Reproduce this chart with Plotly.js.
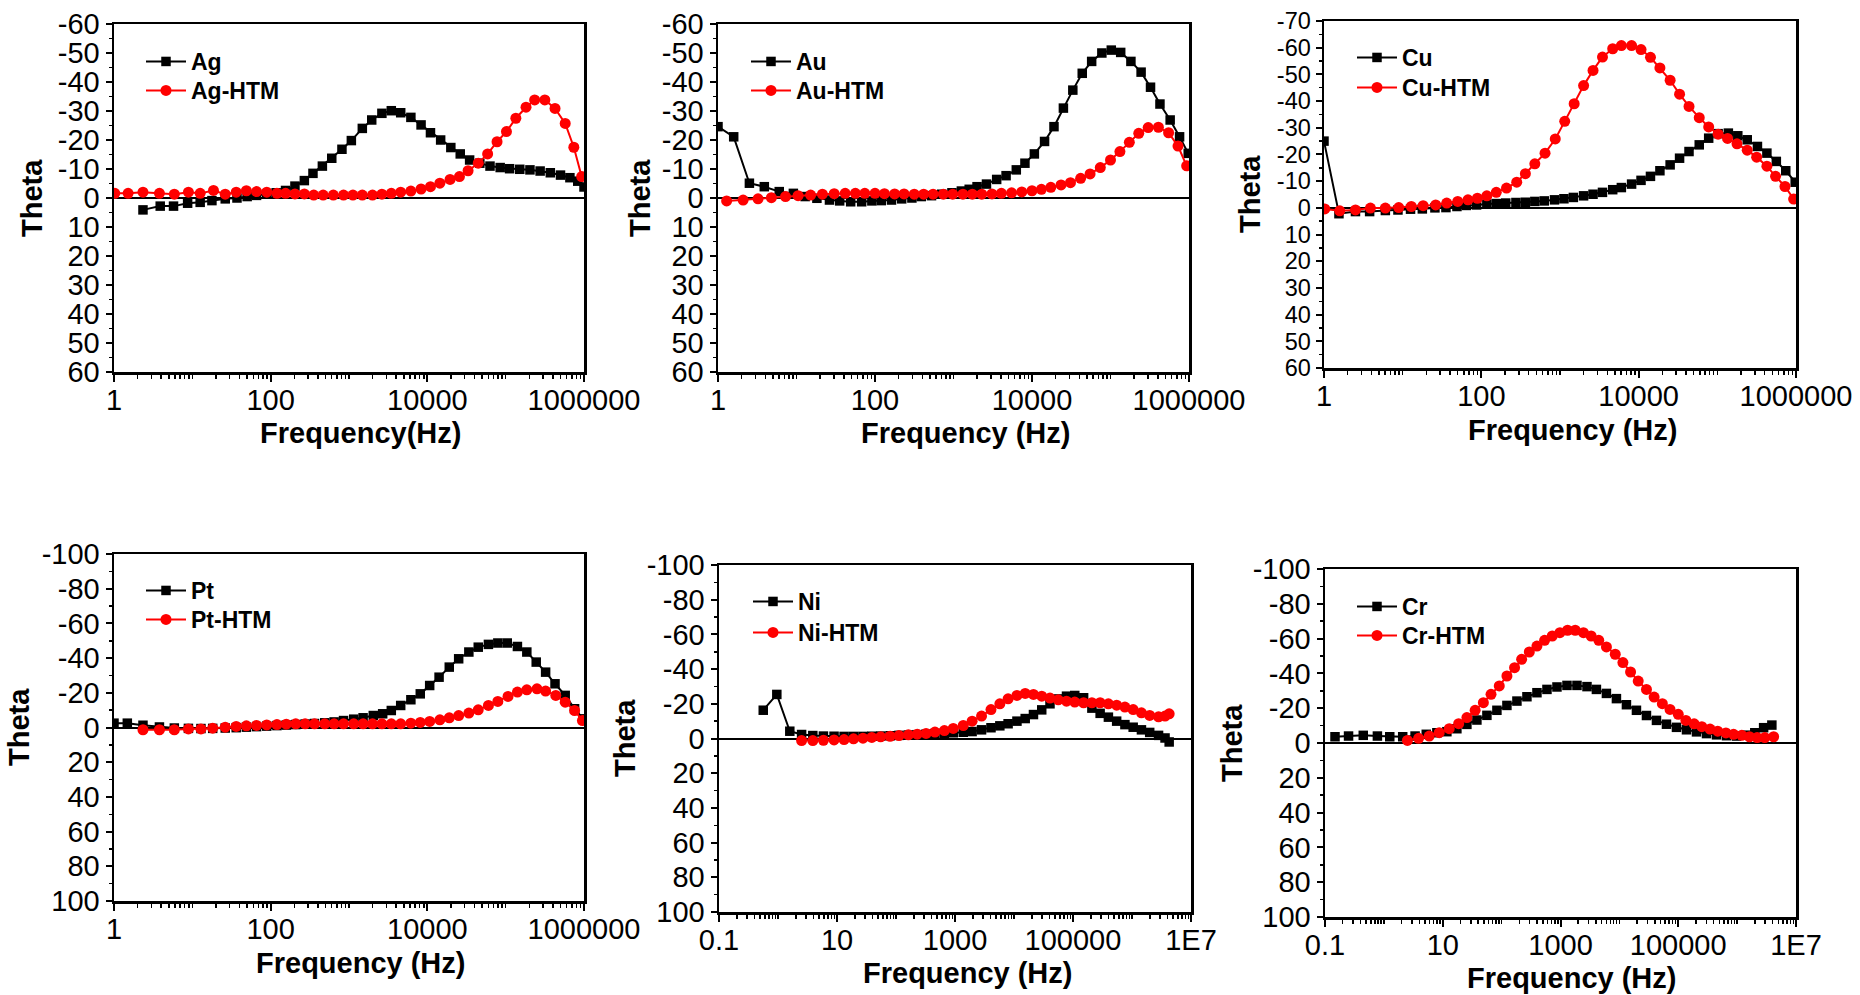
<!DOCTYPE html>
<html><head><meta charset="utf-8">
<script src="https://cdn.plot.ly/plotly-3.0.1.min.js"></script>
<style>html,body{margin:0;padding:0;background:#fff}#chart{width:1860px;height:995px}</style>
</head><body><div id="chart"></div>
<script>
// ---- data: log10(frequency / Hz) and theta (deg) ----
const agLogF = [0.37,0.59,0.76,0.94,1.10,1.25,1.42,1.57,1.70,1.82,1.95,2.07,2.19,2.31,2.43,2.54,2.66,2.78,2.91,3.03,3.17,3.29,3.42,3.54,3.66,3.79,3.92,4.04,4.17,4.30,4.42,4.54,4.67,4.80,4.93,5.05,5.18,5.31,5.44,5.57,5.70,5.82,5.92,6.00];
const agTheta = [4.1,2.8,2.8,1.8,1.5,0.9,0.3,0.0,-0.5,-0.9,-1.3,-1.8,-2.6,-4.1,-6.0,-8.5,-11.0,-13.7,-16.8,-19.8,-24.0,-26.9,-29.2,-30.1,-29.4,-27.8,-25.2,-22.5,-20.0,-17.4,-15.2,-13.1,-12.0,-11.0,-10.5,-10.1,-9.9,-9.7,-9.3,-8.7,-7.9,-7.0,-5.8,-3.8];
const agHtmLogF = [0.01,0.18,0.37,0.58,0.77,0.95,1.10,1.27,1.42,1.56,1.69,1.82,1.95,2.08,2.19,2.31,2.43,2.55,2.67,2.80,2.93,3.05,3.17,3.30,3.42,3.54,3.66,3.79,3.92,4.04,4.16,4.29,4.41,4.52,4.65,4.77,4.89,5.01,5.13,5.26,5.37,5.50,5.63,5.76,5.87,5.97];
const agHtmTheta = [-1.6,-1.6,-2.0,-1.6,-1.3,-2.0,-1.6,-2.6,-1.3,-2.0,-2.5,-2.2,-2.0,-1.6,-1.6,-1.4,-1.4,-1.0,-1.0,-1.0,-1.0,-1.0,-1.0,-1.0,-1.3,-1.6,-2.0,-2.4,-3.1,-3.9,-5.1,-6.4,-7.4,-9.4,-12.0,-15.2,-19.4,-22.9,-27.5,-31.3,-33.8,-33.8,-30.9,-25.7,-17.5,-7.4];

const auLogF = [0.00,0.20,0.40,0.59,0.78,0.96,1.11,1.26,1.42,1.55,1.69,1.83,1.96,2.08,2.21,2.34,2.47,2.59,2.72,2.85,2.98,3.10,3.20,3.30,3.42,3.55,3.67,3.80,3.91,4.03,4.16,4.28,4.40,4.52,4.64,4.76,4.89,5.01,5.13,5.26,5.39,5.51,5.63,5.76,5.88,5.99];
const auTheta = [-24.6,-21.1,-5.1,-3.9,-2.2,-1.6,-0.5,0.1,0.7,1.0,1.3,1.3,1.0,0.9,0.7,0.3,0.0,-0.5,-0.8,-1.3,-1.8,-2.4,-3.0,-3.9,-4.8,-6.4,-7.7,-9.7,-12.0,-15.2,-19.5,-24.6,-31.0,-37.2,-43.0,-47.1,-50.0,-51.0,-50.2,-47.1,-43.4,-38.2,-32.4,-26.9,-21.1,-15.4];
const auHtmLogF = [0.11,0.32,0.51,0.68,0.86,1.02,1.18,1.33,1.48,1.62,1.75,1.87,2.00,2.12,2.25,2.37,2.50,2.62,2.74,2.87,2.99,3.12,3.24,3.36,3.49,3.61,3.74,3.87,4.00,4.12,4.24,4.37,4.49,4.62,4.74,4.87,5.00,5.12,5.24,5.36,5.48,5.61,5.74,5.86,5.97];
const auHtmTheta = [1.0,0.7,0.3,-0.1,-0.5,-0.8,-1.0,-1.3,-1.5,-1.6,-1.6,-1.6,-1.6,-1.5,-1.4,-1.4,-1.3,-1.3,-1.3,-1.3,-1.3,-1.3,-1.3,-1.3,-1.4,-1.6,-1.8,-2.1,-2.5,-3.0,-3.7,-4.5,-5.3,-6.8,-8.3,-10.5,-13.1,-16.0,-19.2,-22.3,-24.3,-24.4,-22.5,-17.9,-11.1];

const cuLogF = [0.00,0.19,0.40,0.58,0.78,0.94,1.10,1.25,1.41,1.55,1.69,1.81,1.94,2.07,2.19,2.31,2.44,2.56,2.68,2.80,2.93,3.05,3.17,3.30,3.42,3.54,3.67,3.78,3.91,4.03,4.15,4.27,4.40,4.52,4.64,4.77,4.89,5.01,5.14,5.26,5.38,5.51,5.63,5.75,5.87,5.99];
const cuTheta = [-25.0,2.2,1.4,1.4,1.0,0.8,0.5,0.4,0.0,-0.1,-0.5,-0.9,-1.1,-1.4,-1.6,-1.8,-2.0,-2.1,-2.4,-2.6,-3.0,-3.4,-3.9,-4.5,-5.1,-5.8,-6.8,-7.6,-8.9,-10.3,-11.8,-13.9,-16.1,-18.6,-21.1,-23.6,-26.1,-27.8,-28.0,-27.0,-25.5,-23.0,-20.5,-17.4,-13.9,-9.6];
const cuHtmLogF = [0.01,0.20,0.40,0.59,0.78,0.95,1.11,1.26,1.42,1.56,1.70,1.83,1.95,2.07,2.19,2.32,2.45,2.56,2.68,2.81,2.94,3.06,3.18,3.30,3.42,3.54,3.67,3.78,3.91,4.03,4.15,4.27,4.40,4.52,4.64,4.77,4.89,5.01,5.13,5.25,5.38,5.50,5.63,5.74,5.86,5.97];
const cuHtmTheta = [0.4,1.1,0.8,0.1,0.1,-0.1,-0.5,-0.8,-1.1,-1.8,-2.4,-3.0,-3.6,-4.5,-5.8,-7.4,-9.6,-12.8,-16.5,-20.5,-25.8,-32.4,-39.0,-45.8,-51.5,-56.5,-59.6,-60.8,-60.8,-59.3,-56.4,-52.4,-47.8,-42.6,-38.0,-33.8,-30.3,-27.6,-26.0,-24.0,-21.6,-19.0,-15.6,-11.8,-8.0,-3.3];

const ptLogF = [0.00,0.17,0.37,0.58,0.77,0.95,1.11,1.26,1.42,1.56,1.69,1.82,1.95,2.08,2.20,2.32,2.44,2.56,2.69,2.81,2.93,3.06,3.18,3.31,3.43,3.54,3.66,3.79,3.91,4.03,4.15,4.28,4.40,4.53,4.65,4.78,4.90,5.02,5.15,5.27,5.39,5.51,5.63,5.76,5.88,5.99];
const ptTheta = [-2.5,-2.5,-1.3,-0.3,0.3,0.5,0.6,0.5,0.3,0.1,-0.2,-0.5,-0.8,-1.1,-1.4,-1.7,-2.0,-2.3,-2.7,-3.2,-4.0,-4.8,-5.6,-6.9,-7.9,-9.8,-12.7,-16.0,-19.4,-24.2,-29.0,-34.8,-39.6,-43.5,-46.3,-47.9,-48.7,-48.7,-46.7,-43.5,-37.7,-31.9,-25.2,-18.5,-10.8,-5.0];
const ptHtmLogF = [0.37,0.58,0.77,0.95,1.11,1.26,1.42,1.56,1.69,1.82,1.95,2.08,2.20,2.32,2.44,2.56,2.69,2.81,2.93,3.06,3.18,3.30,3.42,3.54,3.66,3.79,3.91,4.03,4.16,4.28,4.40,4.53,4.65,4.78,4.90,5.03,5.15,5.27,5.40,5.51,5.64,5.76,5.88,5.98];
const ptHtmTheta = [1.3,1.3,1.3,0.8,0.8,0.4,-0.2,-0.6,-1.0,-1.2,-1.5,-1.7,-1.9,-2.1,-2.1,-2.1,-2.1,-2.1,-2.1,-2.1,-2.1,-2.1,-2.1,-2.1,-2.1,-2.5,-2.9,-3.5,-4.4,-5.6,-6.9,-8.3,-10.2,-12.7,-15.0,-17.9,-20.4,-21.7,-22.3,-21.0,-18.5,-14.6,-9.8,-4.0];

const niLogF = [-0.25,-0.02,0.20,0.40,0.59,0.77,0.95,1.12,1.28,1.44,1.59,1.74,1.90,2.05,2.21,2.36,2.51,2.66,2.82,2.97,3.14,3.29,3.45,3.61,3.76,3.90,4.05,4.19,4.33,4.47,4.61,4.75,4.89,5.03,5.18,5.32,5.46,5.60,5.74,5.88,6.02,6.16,6.30,6.45,6.56,6.63];
const niTheta = [-16.3,-25.4,-4.2,-2.3,-1.7,-1.4,-1.3,-1.2,-1.2,-1.2,-1.3,-1.4,-1.6,-1.8,-2.0,-2.2,-2.5,-2.8,-3.0,-3.3,-3.6,-4.0,-5.0,-6.2,-7.3,-8.5,-10.0,-11.5,-13.8,-16.5,-20.0,-22.8,-24.4,-24.8,-23.5,-17.5,-14.5,-12.3,-10.0,-8.0,-6.5,-5.0,-3.5,-1.8,-0.3,2.0];
const niHtmLogF = [0.40,0.59,0.77,0.95,1.12,1.28,1.44,1.59,1.74,1.90,2.05,2.21,2.36,2.51,2.66,2.82,2.97,3.14,3.29,3.45,3.61,3.76,3.90,4.05,4.19,4.33,4.47,4.61,4.75,4.89,5.03,5.18,5.32,5.46,5.60,5.74,5.88,6.02,6.16,6.30,6.45,6.56,6.63];
const niHtmTheta = [1.2,1.2,1.0,0.8,0.6,0.2,-0.2,-0.6,-1.0,-1.3,-1.7,-2.1,-2.5,-2.9,-3.7,-4.6,-5.8,-7.5,-10.0,-12.9,-16.7,-20.0,-22.9,-24.8,-26.0,-25.4,-24.4,-23.3,-22.3,-21.5,-21.0,-20.6,-20.6,-20.6,-20.0,-19.2,-18.1,-16.7,-14.8,-13.3,-12.5,-12.9,-14.2];

const crLogF = [-0.83,-0.60,-0.35,-0.11,0.10,0.32,0.53,0.72,0.90,1.07,1.24,1.41,1.58,1.75,1.92,2.09,2.26,2.43,2.60,2.77,2.94,3.11,3.28,3.45,3.61,3.78,3.95,4.12,4.29,4.46,4.63,4.80,4.97,5.14,5.31,5.48,5.65,5.82,5.99,6.16,6.30,6.45,6.59];
const crTheta = [-3.6,-4.0,-4.4,-4.0,-3.6,-3.6,-4.0,-5.0,-5.9,-6.5,-8.2,-10.7,-13.2,-15.9,-18.8,-21.6,-24.1,-26.6,-28.9,-30.8,-32.2,-33.1,-33.1,-32.4,-30.8,-28.5,-25.5,-22.0,-18.8,-15.8,-13.0,-10.8,-9.0,-7.6,-6.4,-5.4,-4.7,-4.2,-4.0,-4.5,-5.9,-8.8,-10.3];
const crHtmLogF = [0.40,0.59,0.77,0.94,1.11,1.27,1.41,1.55,1.69,1.82,1.96,2.09,2.22,2.34,2.47,2.60,2.73,2.86,2.99,3.12,3.25,3.39,3.52,3.65,3.78,3.93,4.06,4.19,4.32,4.46,4.59,4.73,4.86,5.00,5.13,5.27,5.40,5.54,5.67,5.81,5.94,6.08,6.21,6.34,6.47,6.62];
const crHtmTheta = [-1.5,-2.7,-4.0,-5.9,-8.2,-11.1,-14.6,-18.8,-23.2,-28.0,-32.8,-38.5,-43.3,-48.1,-52.3,-55.7,-59.0,-61.5,-63.4,-64.8,-64.8,-63.4,-61.5,-59.0,-55.2,-51.0,-46.2,-40.8,-35.6,-30.8,-26.4,-22.6,-19.3,-16.5,-13.0,-11.0,-9.4,-8.0,-6.8,-5.8,-5.0,-4.4,-3.6,-3.1,-3.1,-3.6];

// ---- axis tick labels ----
const xTicks6 = [1, 100, 10000, 1000000];
const xTickText6 = ['1', '100', '10000', '1000000'];
const xTicks8 = [0.1, 10, 1000, 100000, 10000000];
const xTickText8 = ['0.1', '10', '1000', '100000', '1E7'];
const yTicks60 = [-60,-50,-40,-30,-20,-10,0,10,20,30,40,50,60];
const yTicks70 = [-70,-60,-50,-40,-30,-20,-10,0,10,20,30,40,50,60];
const yTicks100 = [-100,-80,-60,-40,-20,0,20,40,60,80,100];

// ---- layout (pixel geometry of the 1860x995 figure) ----
const W = 1860, H = 995;
const px = v => v / W, py = v => 1 - v / H;
const FONT = 'Liberation Sans, Arial, sans-serif';

const panels = [
  {name:'Ag', f:agLogF, t:agTheta, fh:agHtmLogF, th:agHtmTheta, xr:[114,584], yr:[24,372], xrange:[0,6], yrange:[60,-60], xt:xTicks6, xtt:xTickText6, yt:yTicks60, ydm:5, yfs:29, legX:141, legY:[40,69], xtitle:'Frequency(Hz)', xtpos:[360,433], ytpos:[32,198]},
  {name:'Au', f:auLogF, t:auTheta, fh:auHtmLogF, th:auHtmTheta, xr:[718,1189], yr:[24,372], xrange:[0,6], yrange:[60,-60], xt:xTicks6, xtt:xTickText6, yt:yTicks60, ydm:5, yfs:29, legX:746, legY:[40,69], xtitle:'Frequency (Hz)', xtpos:[965,433], ytpos:[640,198]},
  {name:'Cu', f:cuLogF, t:cuTheta, fh:cuHtmLogF, th:cuHtmTheta, xr:[1324,1796], yr:[21,368], xrange:[0,6], yrange:[60,-70], xt:xTicks6, xtt:xTickText6, yt:yTicks70, ydm:5, yfs:23.5, legX:1352, legY:[36,66], xtitle:'Frequency (Hz)', xtpos:[1572,430], ytpos:[1250,194]},
  {name:'Pt', f:ptLogF, t:ptTheta, fh:ptHtmLogF, th:ptHtmTheta, xr:[114,584], yr:[554,901], xrange:[0,6], yrange:[100,-100], xt:xTicks6, xtt:xTickText6, yt:yTicks100, ydm:10, yfs:29, legX:141, legY:[569,598], xtitle:'Frequency (Hz)', xtpos:[360,963], ytpos:[19,727]},
  {name:'Ni', f:niLogF, t:niTheta, fh:niHtmLogF, th:niHtmTheta, xr:[719,1191], yr:[565,912], xrange:[-1,7], yrange:[100,-100], xt:xTicks8, xtt:xTickText8, yt:yTicks100, ydm:10, yfs:29, legX:748, legY:[580,611], xtitle:'Frequency (Hz)', xtpos:[967,973], ytpos:[625,738]},
  {name:'Cr', f:crLogF, t:crTheta, fh:crHtmLogF, th:crHtmTheta, xr:[1325,1796], yr:[569,917], xrange:[-1,7], yrange:[100,-100], xt:xTicks8, xtt:xTickText8, yt:yTicks100, ydm:10, yfs:29, legX:1352, legY:[585,614], xtitle:'Frequency (Hz)', xtpos:[1571,978], ytpos:[1232,743]}
];

const toHz = arr => arr.map(v => Math.pow(10, v));
const traces = [];
const layout = {
  width: W, height: H,
  margin: {l:0, r:0, t:0, b:0},
  paper_bgcolor: '#fff', plot_bgcolor: '#fff',
  font: {family: FONT, size: 29, color: '#000'},
  showlegend: true,
  annotations: []
};
const legendStyle = (x, y) => ({
  x: px(x), y: py(y), xref: 'paper', yref: 'paper',
  xanchor: 'left', yanchor: 'top', bgcolor: 'rgba(0,0,0,0)', borderwidth: 0,
  font: {family: FONT, size: 23, color: '#000', weight: 700},
  itemwidth: 40
});

panels.forEach((p, i) => {
  const n = i === 0 ? '' : String(i + 1);
  const xa = 'x' + n, ya = 'y' + n;
  const lgA = 'legend' + (2 * i === 0 ? '' : String(2 * i + 1));
  const lgB = 'legend' + String(2 * i + 2);
  traces.push({
    x: toHz(p.f), y: p.t, xaxis: xa, yaxis: ya, legend: lgA,
    name: p.name, mode: 'lines+markers', type: 'scatter',
    line: {color: '#000000', width: 2},
    marker: {symbol: 'square', size: 9.5, color: '#000000'}
  });
  traces.push({
    x: toHz(p.fh), y: p.th, xaxis: xa, yaxis: ya, legend: lgB,
    name: p.name + '-HTM', mode: 'lines+markers', type: 'scatter',
    line: {color: '#ff0000', width: 2},
    marker: {symbol: 'circle', size: 11, color: '#ff0000'}
  });
  layout[lgA] = legendStyle(p.legX, p.legY[0]);
  layout[lgB] = legendStyle(p.legX, p.legY[1]);
  layout['xaxis' + n] = {
    type: 'log', domain: [px(p.xr[0]), px(p.xr[1])], anchor: ya,
    range: p.xrange, tickmode: 'array', tickvals: p.xt, ticktext: p.xtt,
    ticks: 'outside', ticklen: 7, tickwidth: 2, tickcolor: '#000', ticklabelstandoff: -6,
    showline: true, linewidth: 2.5, linecolor: '#000', mirror: true,
    showgrid: false, zeroline: false,
    minor: {ticks: 'outside', ticklen: 4, tickwidth: 1.5, tickcolor: '#000', dtick: 'D1', showgrid: false},
    tickfont: {family: FONT, size: 29, color: '#000'}
  };
  layout['yaxis' + n] = {
    domain: [py(p.yr[1]), py(p.yr[0])], anchor: xa,
    range: p.yrange, tickmode: 'array', tickvals: p.yt, ticktext: p.yt.map(String),
    ticks: 'outside', ticklen: 6, tickwidth: 2, tickcolor: '#000',
    showline: true, linewidth: 2.5, linecolor: '#000', mirror: true,
    showgrid: false, zeroline: true, zerolinecolor: '#000', zerolinewidth: 2,
    minor: {ticks: 'outside', ticklen: 3, tickwidth: 1.5, tickcolor: '#000', dtick: p.ydm, showgrid: false},
    tickfont: {family: FONT, size: p.yfs, color: '#000'}
  };
  layout.annotations.push({
    xref: 'paper', yref: 'paper', x: px(p.xtpos[0]), y: py(p.xtpos[1]),
    xanchor: 'center', yanchor: 'middle', showarrow: false,
    text: p.xtitle, font: {family: FONT, size: 29, color: '#000', weight: 700}
  });
  layout.annotations.push({
    xref: 'paper', yref: 'paper', x: px(p.ytpos[0]), y: py(p.ytpos[1]),
    xanchor: 'center', yanchor: 'middle', showarrow: false, textangle: -90,
    text: 'Theta', font: {family: FONT, size: 29, color: '#000', weight: 700}
  });
});

Plotly.newPlot('chart', traces, layout, {displayModeBar: false, staticPlot: true});
</script></body></html>
